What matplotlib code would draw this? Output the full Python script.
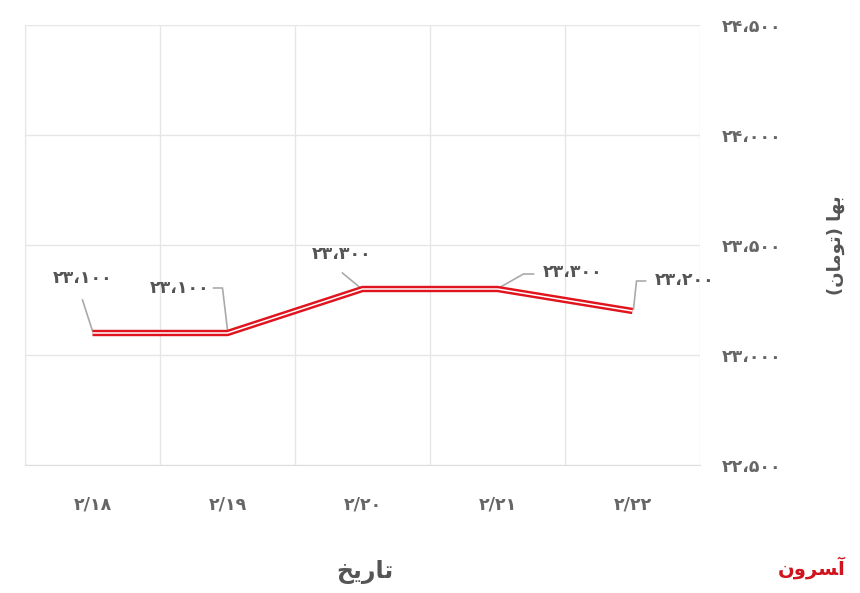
import matplotlib
matplotlib.use("Agg")
import matplotlib.pyplot as plt

# data
tarikh = ["۲/۱۸", "۲/۱۹", "۲/۲۰", "۲/۲۱", "۲/۲۲"]
baha = [23100, 23100, 23300, 23300, 23200]
baha_labels = ["۲۳،۱۰۰", "۲۳،۱۰۰", "۲۳،۳۰۰", "۲۳،۳۰۰", "۲۳،۲۰۰"]
y_ticks = [22500, 23000, 23500, 24000, 24500]
y_tick_labels = ["۲۲،۵۰۰", "۲۳،۰۰۰", "۲۳،۵۰۰", "۲۴،۰۰۰", "۲۴،۵۰۰"]

# arabic text in visual order (presentation forms) since matplotlib has no shaping
x_title = "\uFEA6\uFEF3\uFEAD\uFE8E\uFE97"                 # تاریخ
y_title = "(\uFEE5\uFE8E\uFEE3\uFEEE\uFE97) \uFE8E\uFEEC\uFE91"  # بها (تومان)

plt.rcParams['font.family'] = ['DejaVu Sans']

fig = plt.figure(figsize=(8.6, 5.93), dpi=100)
ax = fig.add_axes([25/860, 1 - 465/593, 675/860, 440/593])

x = list(range(len(tarikh)))
ax.plot(x, baha, color="#e0141e", lw=4.6, solid_capstyle="butt", zorder=3)
ax.plot(x, baha, color="white", lw=1.1, solid_capstyle="butt", zorder=4)

ax.set_xlim(-0.5, 4.5)
ax.set_ylim(22500, 24500)
ax.set_xticks(x)
ax.set_xticklabels(tarikh)
ax.set_xticks([i - 0.5 for i in range(len(tarikh) + 1)], minor=True)
ax.set_yticks(y_ticks)
ax.set_yticklabels(y_tick_labels)
ax.yaxis.tick_right()
ax.tick_params(axis="both", which="both", length=0, labelsize=12.5, colors="#666666")
ax.tick_params(axis="x", pad=22)
ax.tick_params(axis="y", pad=16)
for lab in ax.get_yticklabels() + ax.get_xticklabels():
    lab.set_fontweight("bold")

ax.grid(axis="y", which="major", color="#e6e6e6", lw=1)
ax.grid(axis="x", which="minor", color="#e6e6e6", lw=1)
ax.set_axisbelow(True)
for side in ["top", "right"]:
    ax.spines[side].set_visible(False)
ax.spines["left"].set_color("#e6e6e6")
ax.spines["bottom"].set_color("#dddddd")

# leader lines: pixel offsets from each point (x right, y up), then label position
leaders = [
    [(0, 2), (-10, 33)],
    [(0, 3), (-5, 45), (-14, 45)],
    [(-2, 1), (-20, 16)],
    [(3, 2), (26, 15), (36, 15)],
    [(1, 2), (4, 30), (13, 30)],
]
label_pos = [(-10, 55, "center"), (-18, 45, "right"), (-21, 35, "center"),
             (45, 17, "left"), (22, 31, "left")]

inv = ax.transData.inverted()
for i, v in enumerate(baha):
    px, py = ax.transData.transform((x[i], v))
    pts = [inv.transform((px + dx, py + dy)) for dx, dy in leaders[i]]
    ax.plot([p[0] for p in pts], [p[1] for p in pts], color="#aaaaaa", lw=1.2,
            zorder=2, clip_on=False)
    dx, dy, ha = label_pos[i]
    ax.annotate(baha_labels[i], (x[i], v), xytext=(dx, dy), textcoords="offset pixels",
                ha=ha, va="center", fontsize=12.5, fontweight="bold", color="#555555")

fig.text(365/860, 1 - 572/593, x_title, ha="center", va="center", fontsize=17,
         color="#555555", fontweight="bold")
fig.text(836/860, 1 - 245/593, y_title, ha="center", va="center", fontsize=13,
         rotation=90, color="#555555", fontweight="bold")

fig.text(812/860, 1 - 568/593, "\uFEE5\uFEED\uFEAE\uFEB4\uFE81", ha="center", va="center",
         fontsize=14, color="#d0141e", fontweight="bold")

fig.savefig("out.png", dpi=100)
